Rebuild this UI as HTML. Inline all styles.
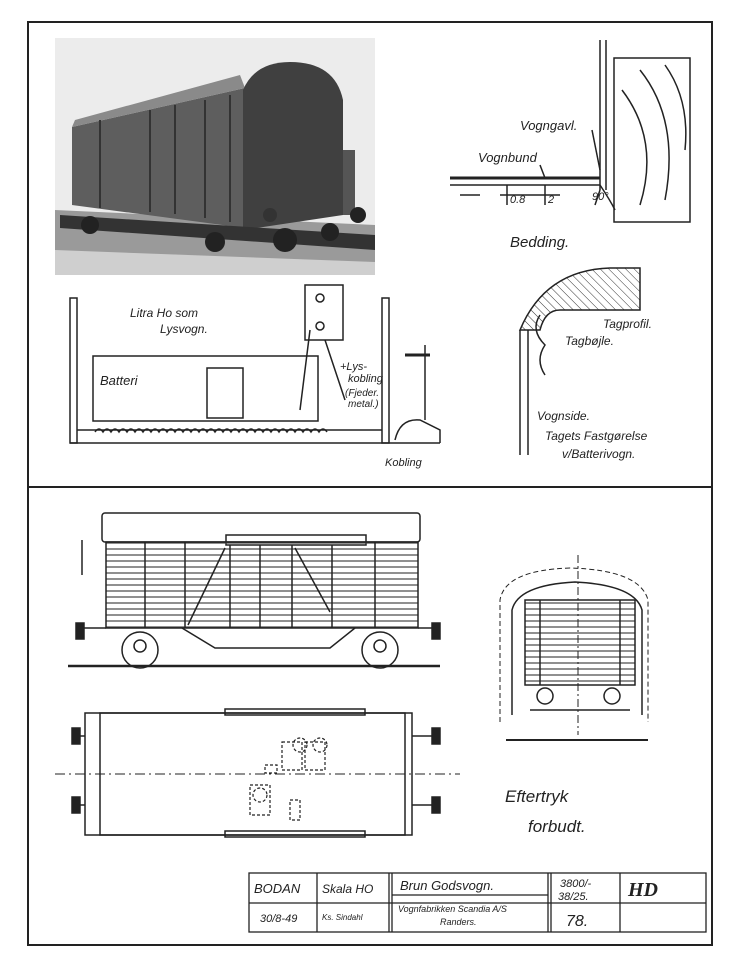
<!DOCTYPE html>
<html><head><meta charset="utf-8"><style>
html,body{margin:0;padding:0;background:#fff;}
svg{display:block}
text{font-family:"Liberation Sans",sans-serif;font-style:italic;fill:#222}
</style></head><body>
<svg width="730" height="960" viewBox="0 0 730 960" xmlns="http://www.w3.org/2000/svg">
<defs>
<pattern id="hl" width="6" height="6" patternUnits="userSpaceOnUse"><line x1="0" y1="3" x2="6" y2="3" stroke="#444" stroke-width="1.2"/></pattern>
<pattern id="dg" width="6" height="6" patternUnits="userSpaceOnUse" patternTransform="rotate(-45)"><line x1="0" y1="0" x2="0" y2="6" stroke="#333" stroke-width="1"/></pattern>
</defs>
<rect width="730" height="960" fill="#fff"/>
<rect x="28" y="22" width="684" height="923" fill="none" stroke="#222" stroke-width="2"/>
<line x1="28" y1="487" x2="712" y2="487" stroke="#222" stroke-width="2"/>

<!-- photo -->
<rect x="55" y="38" width="320" height="237" fill="#ececec"/>
<polygon points="55,210 375,225 375,275 55,275" fill="#9a9a9a"/>
<polygon points="55,250 375,262 375,275 55,275" fill="#cfcfcf"/>
<polygon points="72,127 245,88 245,228 72,205" fill="#5e5e5e"/>
<polygon points="72,127 245,88 240,75 75,120" fill="#8a8a8a"/>
<path d="M243,90 Q255,62 290,62 Q335,62 343,100 L343,215 L243,230 Z" fill="#404040"/>
<g stroke="#333" stroke-width="2">
<line x1="100" y1="120" x2="100" y2="208"/><line x1="150" y1="110" x2="150" y2="212"/>
<line x1="175" y1="105" x2="175" y2="214"/><line x1="205" y1="100" x2="205" y2="218"/>
<line x1="230" y1="95" x2="230" y2="222"/>
</g>
<polygon points="343,150 355,150 355,215 343,215" fill="#555"/>
<circle cx="358" cy="215" r="8" fill="#222"/><circle cx="270" cy="215" r="7" fill="#333"/>
<path d="M60,215 L375,235 L375,250 L60,228Z" fill="#333"/>
<circle cx="90" cy="225" r="9" fill="#222"/><circle cx="215" cy="242" r="10" fill="#222"/>
<circle cx="285" cy="240" r="12" fill="#222"/><circle cx="330" cy="232" r="9" fill="#222"/>

<!-- Bedding detail -->
<g stroke="#222" fill="none" stroke-width="1.5">
<line x1="600" y1="40" x2="600" y2="190"/><line x1="606" y1="40" x2="606" y2="190"/>
<path d="M614,58 L690,58 L690,222 L614,222 Z"/>
<path d="M622,90 Q660,140 640,205 M640,70 Q680,120 665,200 M665,65 Q690,100 685,150"/>
<line x1="450" y1="178" x2="600" y2="178" stroke-width="3"/>
<line x1="450" y1="185" x2="600" y2="185"/>
<path d="M460,195 L480,195 M500,195 L560,195"/>
<path d="M600,190 L595,205 M600,185 Q610,200 615,210"/>
<line x1="507" y1="185" x2="507" y2="205"/><line x1="545" y1="185" x2="545" y2="205"/>
<line x1="540" y1="165" x2="545" y2="178"/><line x1="592" y1="130" x2="600" y2="170"/>
</g>
<text x="520" y="130" font-size="13">Vogngavl.</text>
<text x="478" y="162" font-size="13">Vognbund</text>
<text x="510" y="203" font-size="11">0.8</text><text x="548" y="203" font-size="11">2</text><text x="592" y="200" font-size="11">90°</text>
<text x="510" y="247" font-size="15">Bedding.</text>

<!-- roof attachment detail -->
<path d="M520,330 Q545,270 610,268 L640,268 L640,310 L560,310 Q545,310 540,330 Z" fill="url(#dg)" stroke="#222" stroke-width="1.5"/>
<line x1="520" y1="330" x2="520" y2="455" stroke="#222" stroke-width="1.5"/>
<line x1="528" y1="330" x2="528" y2="455" stroke="#222" stroke-width="1.5"/>
<path d="M540,315 Q530,330 545,345 Q535,360 545,375" fill="none" stroke="#222" stroke-width="1.5"/>
<text x="603" y="328" font-size="12">Tagprofil.</text>
<text x="565" y="345" font-size="12">Tagbøjle.</text>
<text x="537" y="420" font-size="12">Vognside.</text>
<text x="545" y="440" font-size="12">Tagets Fastgørelse</text>
<text x="562" y="458" font-size="12">v/Batterivogn.</text>

<!-- battery car section -->
<g stroke="#222" fill="none" stroke-width="1.5">
<rect x="70" y="298" width="7" height="145"/><rect x="382" y="298" width="7" height="145"/>
<line x1="77" y1="430" x2="382" y2="430"/><line x1="70" y1="443" x2="440" y2="443"/>
<rect x="93" y="356" width="225" height="65"/>
<rect x="207" y="368" width="36" height="50"/>
<rect x="305" y="285" width="38" height="55"/>
<circle cx="320" cy="298" r="4"/><circle cx="320" cy="326" r="4"/>
<path d="M95,432 q4,-6 8,0 q4,-6 8,0 q4,-6 8,0 q4,-6 8,0 q4,-6 8,0 q4,-6 8,0 q4,-6 8,0 q4,-6 8,0 q4,-6 8,0 q4,-6 8,0 q4,-6 8,0 q4,-6 8,0 q4,-6 8,0 q4,-6 8,0 q4,-6 8,0 q4,-6 8,0 q4,-6 8,0 q4,-6 8,0 q4,-6 8,0 q4,-6 8,0 q4,-6 8,0 q4,-6 8,0 q4,-6 8,0 q4,-6 8,0 q4,-6 8,0 q4,-6 8,0 q4,-6 8,0 q4,-6 8,0 q4,-6 8,0"/>
<path d="M395,440 Q400,418 420,420 L440,430 L440,443"/>
<line x1="405" y1="355" x2="430" y2="355" stroke-width="3"/><line x1="425" y1="345" x2="425" y2="420"/>
<path d="M300,410 L310,330 M325,340 L345,400"/>
</g>
<text x="130" y="317" font-size="12">Litra Ho som</text>
<text x="160" y="333" font-size="12">Lysvogn.</text>
<text x="100" y="385" font-size="13">Batteri</text>
<text x="340" y="370" font-size="11">+Lys-</text><text x="348" y="382" font-size="11">kobling</text>
<text x="345" y="396" font-size="10">(Fjeder.</text><text x="348" y="407" font-size="10">metal.)</text>
<text x="385" y="466" font-size="11">Kobling</text>

<!-- side elevation -->
<g stroke="#222" fill="none" stroke-width="1.5">
<rect x="102" y="513" width="318" height="29" rx="3"/>
<rect x="226" y="535" width="140" height="10"/>
<rect x="106" y="542" width="312" height="86" fill="url(#hl)"/>
<line x1="145" y1="542" x2="145" y2="628"/><line x1="185" y1="542" x2="185" y2="628"/>
<line x1="230" y1="545" x2="230" y2="628"/><line x1="260" y1="545" x2="260" y2="628"/>
<line x1="292" y1="545" x2="292" y2="628"/><line x1="332" y1="545" x2="332" y2="628"/>
<line x1="375" y1="542" x2="375" y2="628"/>
<line x1="188" y1="625" x2="225" y2="548"/><line x1="295" y1="548" x2="330" y2="612"/>
<path d="M182,628 L215,648 L330,648 L355,628"/>
<circle cx="140" cy="650" r="18"/><circle cx="380" cy="650" r="18"/>
<circle cx="140" cy="646" r="6"/><circle cx="380" cy="646" r="6"/>
<line x1="68" y1="666" x2="440" y2="666" stroke-width="2.5"/>
<rect x="76" y="623" width="8" height="16" fill="#222"/><rect x="432" y="623" width="8" height="16" fill="#222"/>
<line x1="84" y1="628" x2="106" y2="628"/><line x1="418" y1="628" x2="432" y2="628"/>
<line x1="82" y1="540" x2="82" y2="575"/>
</g>

<!-- top view -->
<g stroke="#222" fill="none" stroke-width="1.5">
<rect x="85" y="713" width="327" height="122"/>
<rect x="100" y="713" width="305" height="122"/>
<rect x="225" y="709" width="140" height="6"/><rect x="225" y="831" width="140" height="6"/>
<line x1="55" y1="774" x2="460" y2="774" stroke-dasharray="10,4,2,4" stroke-width="1"/>
<rect x="72" y="728" width="8" height="16" fill="#222"/><rect x="72" y="797" width="8" height="16" fill="#222"/>
<rect x="432" y="728" width="8" height="16" fill="#222"/><rect x="432" y="797" width="8" height="16" fill="#222"/>
<line x1="80" y1="736" x2="85" y2="736"/><line x1="80" y1="805" x2="85" y2="805"/>
<line x1="412" y1="736" x2="432" y2="736"/><line x1="412" y1="805" x2="432" y2="805"/>
<g stroke-dasharray="3,2" stroke-width="1.2">
<rect x="282" y="742" width="20" height="28"/><rect x="305" y="742" width="20" height="28"/>
<circle cx="300" cy="745" r="7"/><circle cx="320" cy="745" r="7"/>
<rect x="250" y="785" width="20" height="30"/><circle cx="260" cy="795" r="7"/>
<rect x="290" y="800" width="10" height="20"/><rect x="265" y="765" width="12" height="8"/>
</g>
</g>

<!-- end view -->
<g stroke="#222" fill="none" stroke-width="1.5">
<path d="M500,722 L500,600 Q505,570 570,568 Q640,570 648,600 L648,722" stroke-dasharray="5,3" stroke-width="1"/>
<path d="M512,715 L512,610 Q518,585 575,582 Q635,585 642,610 L642,715"/>
<rect x="525" y="600" width="110" height="85" fill="url(#hl)"/>
<line x1="540" y1="600" x2="540" y2="685"/><line x1="620" y1="600" x2="620" y2="685"/>
<line x1="578" y1="555" x2="578" y2="735" stroke-dasharray="8,3,2,3" stroke-width="1"/>
<line x1="506" y1="740" x2="648" y2="740" stroke-width="2"/>
<circle cx="545" cy="696" r="8"/><circle cx="612" cy="696" r="8"/>
<line x1="530" y1="710" x2="630" y2="710"/>
</g>

<text x="505" y="802" font-size="17">Eftertryk</text>
<text x="528" y="832" font-size="17">forbudt.</text>

<!-- title block -->
<g stroke="#222" fill="none" stroke-width="1.3">
<rect x="249" y="873" width="457" height="59"/>
<line x1="249" y1="903" x2="706" y2="903"/>
<line x1="317" y1="873" x2="317" y2="932"/>
<line x1="389" y1="873" x2="389" y2="932"/><line x1="392" y1="873" x2="392" y2="932"/>
<line x1="548" y1="873" x2="548" y2="932"/><line x1="551" y1="873" x2="551" y2="932"/>
<line x1="620" y1="873" x2="620" y2="932"/>
<line x1="392" y1="895" x2="548" y2="895"/>
</g>
<text x="254" y="893" font-size="13">BODAN</text>
<text x="322" y="893" font-size="12">Skala HO</text>
<text x="400" y="890" font-size="13">Brun Godsvogn.</text>
<text x="560" y="887" font-size="11">3800/-</text>
<text x="558" y="900" font-size="11">38/25.</text>
<text x="628" y="896" font-size="20" font-weight="bold" style="font-family:'Liberation Serif',serif">HD</text>
<text x="260" y="922" font-size="11">30/8-49</text>
<text x="322" y="920" font-size="8">Ks. Sindahl</text>
<text x="398" y="912" font-size="9">Vognfabrikken Scandia A/S</text>
<text x="440" y="925" font-size="9">Randers.</text>
<text x="566" y="926" font-size="16">78.</text>
</svg>
</body></html>
